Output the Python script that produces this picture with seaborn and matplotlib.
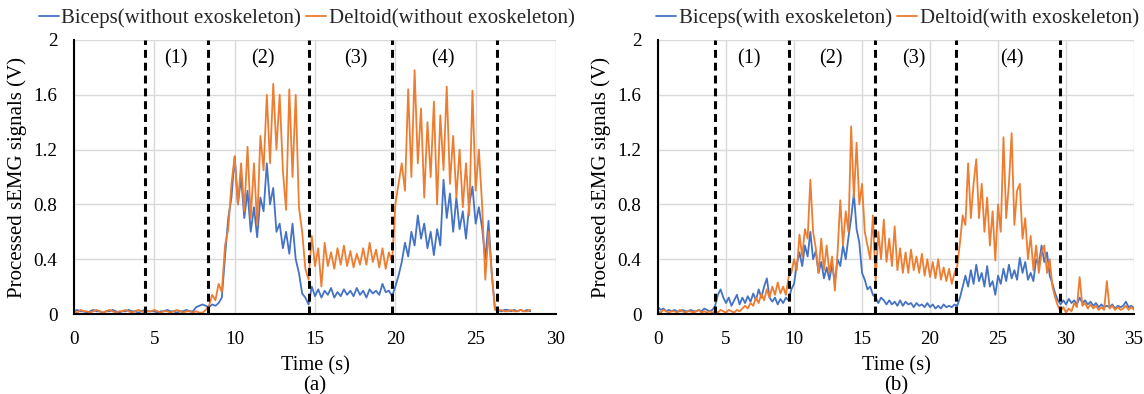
import numpy as np
import pandas as pd
import matplotlib
matplotlib.use("Agg")
import matplotlib.pyplot as plt
import seaborn as sns
from matplotlib.lines import Line2D

sns.set_theme(style="white")
plt.rcParams["font.family"] = ["Liberation Serif", "DejaVu Serif"]

DT = 0.2  # sampling step of the values below (s)

# ---- panel (a): without exoskeleton, t = 0 .. 28.4 s ----
a_biceps = [
    0.02, 0.03, 0.02, 0.02, 0.01, 0.02, 0.03, 0.02, 0.02, 0.01,
    0.02, 0.02, 0.03, 0.02, 0.01, 0.02, 0.02, 0.03, 0.02, 0.02,
    0.01, 0.02, 0.03, 0.02, 0.02, 0.02, 0.01, 0.02, 0.02, 0.03,
    0.02, 0.02, 0.01, 0.02, 0.02, 0.03, 0.02, 0.02, 0.05, 0.06,
    0.07, 0.06, 0.05, 0.07, 0.06, 0.08, 0.12, 0.42, 0.70, 0.85,
    1.15, 0.80, 1.00, 0.70, 0.90, 0.60, 0.78, 0.56, 0.85, 0.75,
    1.10, 0.80, 0.92, 0.60, 0.66, 0.48, 0.60, 0.44, 0.66, 0.40,
    0.30, 0.15, 0.12, 0.07, 0.20, 0.13, 0.18, 0.12, 0.17, 0.14,
    0.19, 0.12, 0.16, 0.13, 0.18, 0.14, 0.17, 0.13, 0.19, 0.14,
    0.17, 0.12, 0.18, 0.15, 0.17, 0.14, 0.22, 0.16, 0.17, 0.13,
    0.20, 0.28, 0.38, 0.52, 0.42, 0.60, 0.50, 0.72, 0.55, 0.66,
    0.48, 0.60, 0.43, 0.62, 0.50, 0.98, 0.70, 0.88, 0.60, 0.85,
    0.62, 0.75, 0.55, 0.80, 0.93, 0.66, 0.78, 0.63, 0.40, 0.68,
    0.30, 0.04, 0.03, 0.02, 0.03, 0.03, 0.02, 0.03, 0.02, 0.03,
    0.02, 0.03, 0.02,
]
a_deltoid = [
    0.02, 0.01, 0.03, 0.02, 0.02, 0.01, 0.02, 0.03, 0.02, 0.01,
    0.02, 0.03, 0.02, 0.01, 0.02, 0.02, 0.03, 0.02, 0.01, 0.02,
    0.03, 0.02, 0.01, 0.02, 0.02, 0.03, 0.02, 0.01, 0.02, 0.02,
    0.01, 0.02, 0.03, 0.02, 0.01, 0.02, 0.02, 0.01, 0.02, 0.01,
    0.01, 0.03, 0.06, 0.14, 0.10, 0.22, 0.16, 0.50, 0.62, 0.95,
    1.15, 0.80, 1.10, 0.75, 1.22, 0.70, 1.10, 0.65, 1.30, 1.05,
    1.60, 1.10, 1.68, 1.20, 1.60, 1.05, 0.76, 1.64, 1.00, 1.60,
    0.78, 0.60, 0.33, 0.25, 0.57, 0.35, 0.48, 0.20, 0.52, 0.35,
    0.45, 0.33, 0.48, 0.36, 0.50, 0.35, 0.46, 0.34, 0.44, 0.36,
    0.48, 0.36, 0.52, 0.38, 0.47, 0.34, 0.48, 0.33, 0.45, 0.38,
    0.80, 0.95, 1.10, 0.90, 1.64, 1.00, 1.78, 1.10, 1.50, 0.85,
    1.40, 1.00, 1.55, 0.80, 1.45, 1.05, 1.66, 0.95, 1.30, 0.85,
    1.20, 0.78, 1.10, 0.72, 1.63, 0.90, 1.20, 0.80, 0.25, 0.60,
    0.30, 0.03, 0.02, 0.03, 0.02, 0.02, 0.03, 0.02, 0.02, 0.03,
    0.02, 0.02, 0.03,
]

# ---- panel (b): with exoskeleton, t = 0 .. 35 s ----
b_biceps = [
    0.05, 0.03, 0.04, 0.02, 0.03, 0.02, 0.03, 0.02, 0.02, 0.03,
    0.02, 0.02, 0.03, 0.02, 0.02, 0.03, 0.02, 0.04, 0.03, 0.02,
    0.03, 0.06, 0.14, 0.18, 0.12, 0.08, 0.12, 0.06, 0.10, 0.14,
    0.07, 0.12, 0.08, 0.13, 0.09, 0.15, 0.10, 0.18, 0.12, 0.20,
    0.26, 0.12, 0.09, 0.12, 0.07, 0.11, 0.08, 0.12, 0.10, 0.18,
    0.22, 0.36, 0.45, 0.35, 0.50, 0.42, 0.60, 0.40, 0.46, 0.30,
    0.38, 0.26, 0.34, 0.25, 0.36, 0.23, 0.40, 0.35, 0.50, 0.40,
    0.56, 0.70, 0.88, 0.62, 0.52, 0.30, 0.25, 0.18, 0.20, 0.14,
    0.12, 0.08, 0.12, 0.10, 0.07, 0.10, 0.07, 0.09, 0.06, 0.10,
    0.06, 0.09, 0.07, 0.08, 0.05, 0.08, 0.06, 0.07, 0.05, 0.08,
    0.05, 0.07, 0.04, 0.06, 0.04, 0.07, 0.05, 0.06, 0.05, 0.07,
    0.06, 0.12, 0.20, 0.28, 0.20, 0.32, 0.22, 0.36, 0.24, 0.30,
    0.20, 0.35, 0.20, 0.24, 0.14, 0.28, 0.22, 0.33, 0.24, 0.36,
    0.26, 0.32, 0.25, 0.41, 0.30, 0.38, 0.25, 0.30, 0.24, 0.40,
    0.36, 0.50, 0.38, 0.45, 0.28, 0.22, 0.15, 0.10, 0.07, 0.10,
    0.07, 0.11, 0.08, 0.10, 0.07, 0.12, 0.08, 0.10, 0.07, 0.09,
    0.06, 0.08, 0.05, 0.07, 0.05, 0.06, 0.05, 0.07, 0.04, 0.06,
    0.05, 0.06, 0.09, 0.05, 0.06, 0.04,
]
b_deltoid = [
    0.02, 0.01, 0.03, 0.02, 0.01, 0.02, 0.02, 0.01, 0.03, 0.02,
    0.01, 0.02, 0.02, 0.01, 0.02, 0.03, 0.01, 0.02, 0.01, 0.02,
    0.01, 0.02, 0.01, 0.03, 0.02, 0.01, 0.03, 0.02, 0.01, 0.03,
    0.02, 0.04, 0.06, 0.04, 0.08, 0.06, 0.12, 0.08, 0.15, 0.10,
    0.18, 0.12, 0.20, 0.14, 0.23, 0.15, 0.20, 0.14, 0.27, 0.30,
    0.40, 0.32, 0.58, 0.42, 0.62, 0.55, 0.98, 0.60, 0.48, 0.30,
    0.55, 0.32, 0.50, 0.30, 0.42, 0.17, 0.45, 0.83, 0.50, 0.75,
    0.60, 1.37, 0.85, 1.25, 0.80, 0.95, 0.60, 0.50, 0.40, 0.72,
    0.24, 0.60, 0.40, 0.69, 0.38, 0.55, 0.35, 0.64, 0.32, 0.48,
    0.30, 0.45, 0.30, 0.47, 0.32, 0.42, 0.30, 0.44, 0.28, 0.40,
    0.27, 0.38, 0.26, 0.40, 0.25, 0.34, 0.24, 0.33, 0.22, 0.30,
    0.35, 0.52, 0.72, 0.65, 1.10, 0.70, 0.95, 1.13, 0.70, 0.95,
    0.60, 0.85, 0.50, 0.75, 0.39, 0.80, 0.60, 1.29, 0.70, 0.95,
    1.32, 0.65, 0.90, 0.95, 0.55, 0.70, 0.40, 0.57, 0.32, 0.50,
    0.30, 0.45, 0.50, 0.30, 0.40, 0.20, 0.12, 0.06, 0.02, 0.05,
    0.01, 0.04, 0.02, 0.08, 0.05, 0.27, 0.06, 0.08, 0.04, 0.07,
    0.04, 0.06, 0.03, 0.05, 0.03, 0.24, 0.04, 0.06, 0.03, 0.05,
    0.03, 0.04, 0.06, 0.03, 0.05, 0.03,
]

a_bounds = [4.43, 8.31, 14.65, 19.82, 26.3]
b_bounds = [4.19, 9.63, 15.93, 21.89, 29.55]
a_phase_x = [6.33, 11.78, 17.53, 22.98]
b_phase_x = [6.66, 12.74, 18.8, 26.0]
phase_labels = ["(1)", "(2)", "(3)", "(4)"]
a_legend = ["Biceps(without exoskeleton)", "Deltoid(without exoskeleton)"]
b_legend = ["Biceps(with exoskeleton)", "Deltoid(with exoskeleton)"]
yticks = [0, 0.4, 0.8, 1.2, 1.6, 2]
ytick_labels = ["0", "0.4", "0.8", "1.2", "1.6", "2"]

BLUE = "#4472C4"
ORANGE = "#ED7D31"

fig = plt.figure(figsize=(11.44, 3.94), dpi=100)
ax1 = fig.add_axes([0.0647, 0.203, 0.4213, 0.6955])
ax2 = fig.add_axes([0.5752, 0.203, 0.4161, 0.6955])


def panel(ax, biceps, deltoid, names, xmax, bounds, phase_x, caption, legend_cx):
    t1 = np.arange(len(biceps)) * DT
    t2 = np.arange(len(deltoid)) * DT
    df = pd.DataFrame({
        "Time": np.concatenate([t1, t2]),
        "Signal": list(biceps) + list(deltoid),
        "Series": [names[0]] * len(biceps) + [names[1]] * len(deltoid),
    })
    sns.lineplot(data=df, x="Time", y="Signal", hue="Series",
                 palette=[BLUE, ORANGE], hue_order=names, linewidth=1.3,
                 legend=False, estimator=None, sort=False, ax=ax, zorder=3)
    ax.set_xlim(0, xmax)
    ax.set_ylim(0, 2)
    ax.set_xticks(list(range(0, xmax + 1, 5)))
    ax.set_yticks(yticks)
    ax.set_yticklabels(ytick_labels)
    ax.grid(True, color="#d9d9d9", linewidth=1.0)
    ax.set_axisbelow(True)
    for s in ["top", "right"]:
        ax.spines[s].set_visible(False)
    for s in ["left", "bottom"]:
        ax.spines[s].set_color("black")
        ax.spines[s].set_linewidth(1.5)
        ax.spines[s].set_zorder(4)
    ax.tick_params(axis="both", length=0, labelsize=13.8, colors="black")
    ax.tick_params(axis="x", pad=12)
    ax.tick_params(axis="y", pad=12)
    for b in bounds:
        ax.axvline(b, color="black", linewidth=2.2, linestyle=(0, (2.6, 1.6)), zorder=5)
    for x, lab in zip(phase_x, phase_labels):
        ax.text(x, 1.86, lab, ha="center", va="center", fontsize=14.5, color="black")
    ax.set_xlabel("Time (s)", fontsize=14.7, color="black", labelpad=6)
    ax.set_ylabel("Processed sEMG signals (V)", fontsize=15, color="black", labelpad=4.5)
    pos = ax.get_position()
    cx = (pos.x0 + pos.x1) / 2
    fig.text(cx, 0.020, caption, ha="center", va="center", fontsize=15, color="black")
    handles = [Line2D([0], [0], color=BLUE, lw=1.3), Line2D([0], [0], color=ORANGE, lw=1.3)]
    fig.legend(handles, names, loc="center", bbox_to_anchor=(legend_cx, 0.9536), ncol=2,
               frameon=False, fontsize=15, handlelength=0.96, handletextpad=0.12,
               columnspacing=0.25, borderaxespad=0, borderpad=0)


panel(ax1, a_biceps, a_deltoid, a_legend, 30, a_bounds, a_phase_x, "(a)", 0.268)
panel(ax2, b_biceps, b_deltoid, b_legend, 35, b_bounds, b_phase_x, "(b)", 0.7845)

fig.savefig("out.png", dpi=100)
